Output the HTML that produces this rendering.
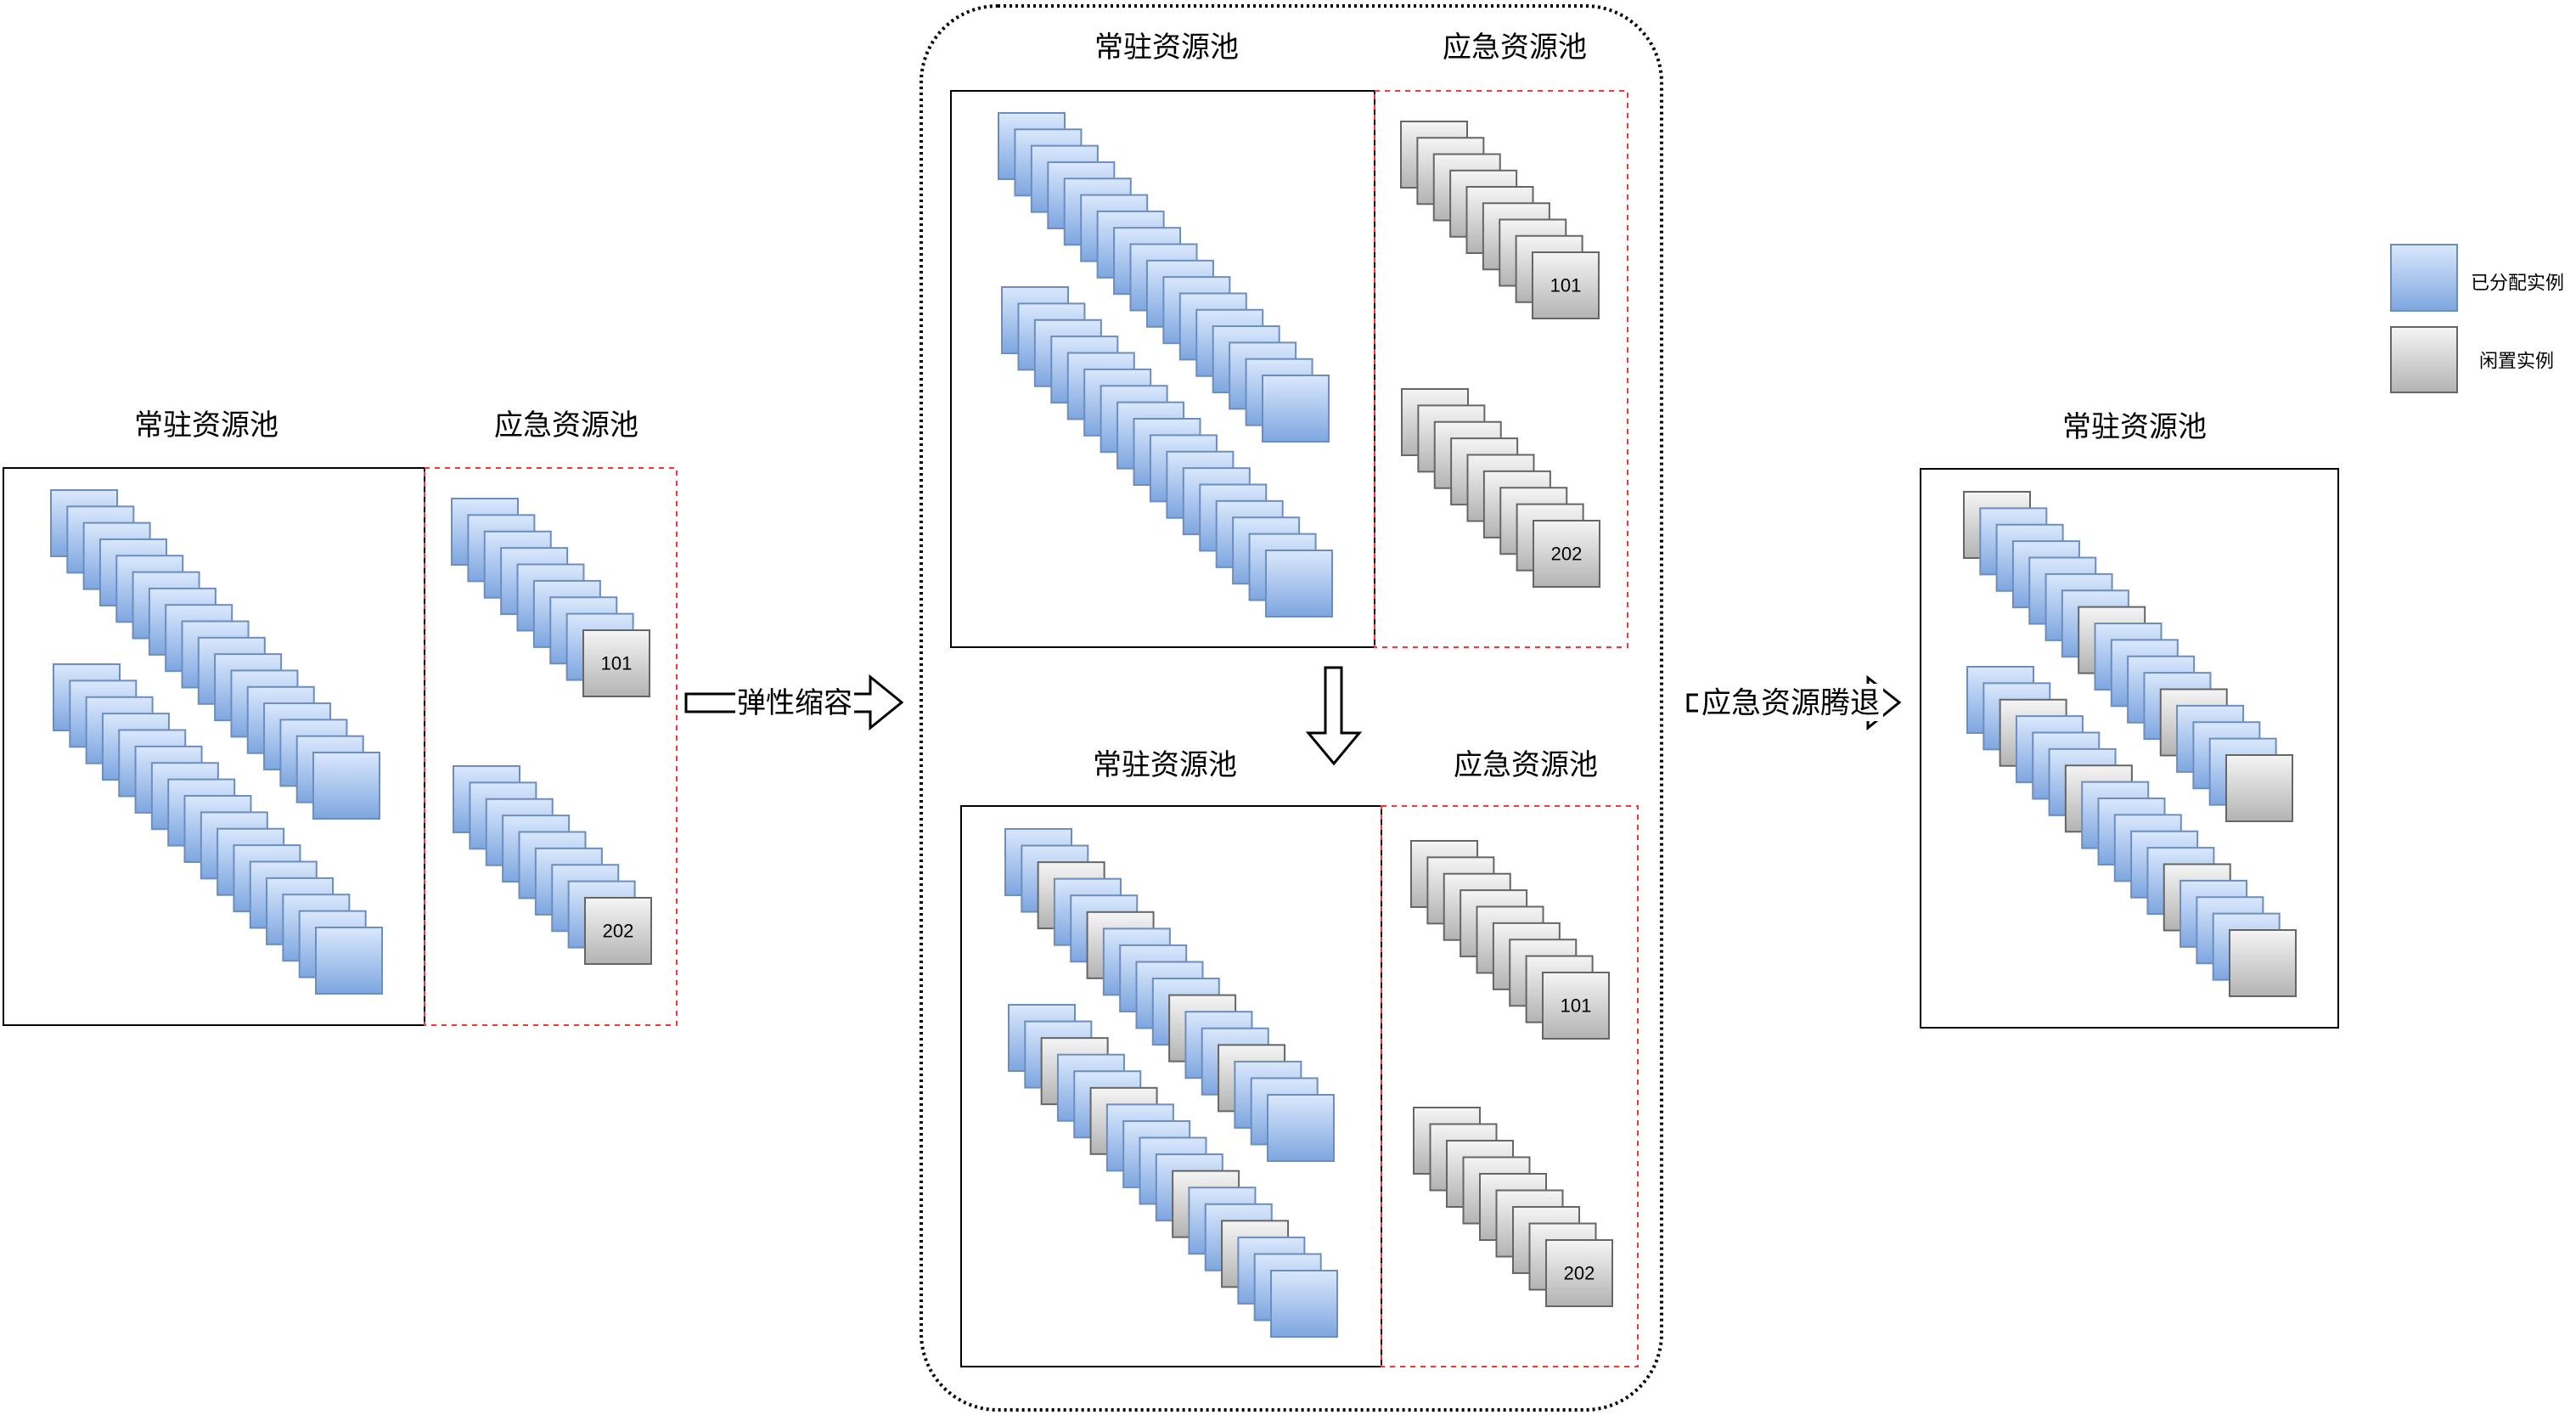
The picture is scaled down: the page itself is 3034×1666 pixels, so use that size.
<!DOCTYPE html>
<html><head><meta charset="utf-8"><style>
html,body{margin:0;padding:0;background:#fff;width:3034px;height:1666px;overflow:hidden}
svg text{font-family:"Liberation Sans","Noto Sans CJK SC",sans-serif;fill:#000}
</style></head><body>
<svg id="s" width="3034" height="1666" viewBox="0 0 3034 1666" xmlns="http://www.w3.org/2000/svg">
<defs>
<linearGradient id="gb" x1="0" y1="0" x2="0" y2="1"><stop offset="0" stop-color="#dae8fc"/><stop offset="1" stop-color="#7ea6e0"/></linearGradient>
<linearGradient id="gg" x1="0" y1="0" x2="0" y2="1"><stop offset="0" stop-color="#f5f5f5"/><stop offset="1" stop-color="#b3b3b3"/></linearGradient>
</defs>
<rect x="1085" y="7" width="872" height="1653" rx="90" ry="90" fill="none" stroke="#000" stroke-width="4" stroke-dasharray="3 4"/>
<g fill="none" stroke-width="2">
<rect x="4" y="551" width="496" height="656" stroke="#000"/>
<rect x="500" y="551" width="297" height="656" stroke="#ff3333" stroke-dasharray="6 6"/>
<rect x="1120" y="107" width="499" height="655" stroke="#000"/>
<rect x="1619" y="107" width="298" height="655" stroke="#ff3333" stroke-dasharray="6 6"/>
<rect x="1132" y="949" width="495" height="660" stroke="#000"/>
<rect x="1627" y="949" width="302" height="660" stroke="#ff3333" stroke-dasharray="6 6"/>
<rect x="2262" y="552" width="492" height="658" stroke="#000"/>
</g>
<g font-size="34" text-anchor="middle" dominant-baseline="central">
<text x="243" y="501">常驻资源池</text>
<text x="667" y="501">应急资源池</text>
<text x="1374" y="56">常驻资源池</text>
<text x="1784" y="56">应急资源池</text>
<text x="1372" y="901">常驻资源池</text>
<text x="1797" y="901">应急资源池</text>
<text x="2514" y="503">常驻资源池</text>
</g>
<g id="cards"></g>
<path d="M808 817 H1025 V797 L1062 827 L1025 857 V838 H808 Z" fill="#fff" stroke="#000" stroke-width="3"/>
<rect x="866" y="805" width="140" height="44" fill="#fff"/>
<text x="936" y="828" font-size="34" text-anchor="middle" dominant-baseline="central">弹性缩容</text>
<path d="M1988 818 H2200 V798 L2237 827 L2200 857 V837 H1988 Z" fill="#fff" stroke="#000" stroke-width="3"/>
<rect x="2000" y="805" width="218" height="44" fill="#fff"/>
<text x="2109" y="828" font-size="35" text-anchor="middle" dominant-baseline="central">应急资源腾退</text>
<path d="M1561 786 V863 H1541 L1571 899 L1601 863 H1580 V786 Z" fill="#fff" stroke="#000" stroke-width="3"/>
<rect x="2816" y="288" width="78" height="78" fill="url(#gb)" stroke="#6c8ebf" stroke-width="2"/>
<rect x="2816" y="385" width="78" height="77" fill="url(#gg)" stroke="#666" stroke-width="2"/>
<text x="2910" y="333" font-size="22" dominant-baseline="central">已分配实例</text>
<text x="2920" y="425" font-size="22" dominant-baseline="central">闲置实例</text>
</svg>
<script>
var g=document.getElementById('cards'),NS='http://www.w3.org/2000/svg';
function stack(x0,y0,x1,y1,n,grays,label){
 for(var i=0;i<n;i++){
  var x=x0+(x1-x0)*i/(n-1),y=y0+(y1-y0)*i/(n-1);
  var gray=grays==='all'||grays.indexOf(i)>=0||(label&&i==n-1);
  var r=document.createElementNS(NS,'rect');
  r.setAttribute('x',x);r.setAttribute('y',y);r.setAttribute('width',78);r.setAttribute('height',78);
  r.setAttribute('fill',gray?'url(#gg)':'url(#gb)');r.setAttribute('stroke',gray?'#666':'#6c8ebf');r.setAttribute('stroke-width',2);
  g.appendChild(r);
  if(label&&i==n-1){var t=document.createElementNS(NS,'text');t.setAttribute('x',x+39);t.setAttribute('y',y+39);
   t.setAttribute('font-size',22);t.setAttribute('text-anchor','middle');t.setAttribute('dominant-baseline','central');t.textContent=label;g.appendChild(t);}
 }
}
var P=[2,5,10,13];
stack(60,577,369,886,17,[]);stack(63,782,372,1092,17,[]);
stack(532,587,687,742,9,[],'101');stack(534,902,689,1057,9,[],'202');
stack(1176,133,1487,442,17,[]);stack(1180,338,1491,648,17,[]);
stack(1650,143,1805,297,9,'all','101');stack(1651,458,1806,613,9,'all','202');
stack(1184,976,1493,1289,17,P);stack(1188,1183,1497,1496,17,P);
stack(1662,990,1817,1145,9,'all','101');stack(1665,1304,1821,1460,9,'all','202');
stack(2313,579,2622,889,17,[0,7,12,16]);stack(2317,785,2626,1095,17,[2,6,12,16]);
</script>
</body></html>
